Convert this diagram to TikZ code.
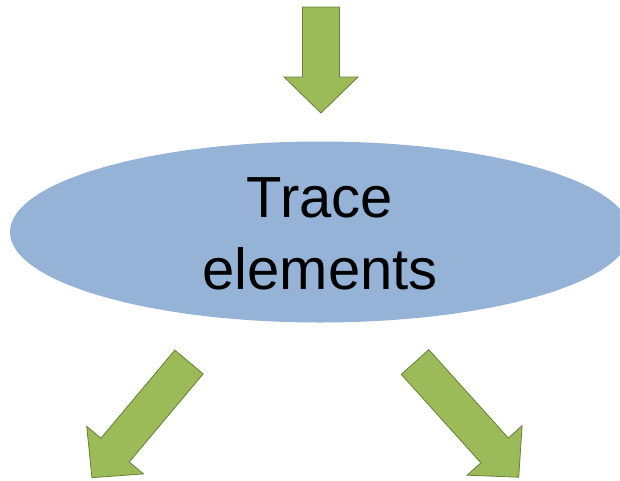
\documentclass[tikz,border=0pt]{standalone}
\usepackage{fontspec}
\setmainfont{Liberation Sans}
\usetikzlibrary{shapes.geometric}

\definecolor{arrowfill}{HTML}{9BBB59}
\definecolor{arrowline}{HTML}{66803A}
\definecolor{ovalfill}{HTML}{95B3D7}

\tikzset{
  % block arrow pointing along +x: total length, shaft half width, head half width, head length
  blockarrow/.pic={
    \draw[fill=arrowfill, draw=arrowline, line width=0.8pt, line join=miter]
      (0pt,\shafthw) -- (\arrowlen-\headlen,\shafthw) -- (\arrowlen-\headlen,\headhw)
      -- (\arrowlen,0pt) -- (\arrowlen-\headlen,-\headhw) -- (\arrowlen-\headlen,-\shafthw)
      -- (0pt,-\shafthw) -- cycle;
  },
  oval/.style={ellipse, fill=ovalfill, draw=none, inner sep=0pt,
    minimum width=620pt, minimum height=181pt},
  ovaltext/.style={align=center, font=\fontsize{58}{72}\selectfont, text=black}
}

\newcommand{\shafthw}{18.5pt}
\newcommand{\headhw}{37pt}
\newcommand{\headlen}{36pt}

\begin{document}
\begin{tikzpicture}[x=1pt, y=-1pt]
  \useasboundingbox (0,0) rectangle (620,480);
  \clip (0,0) rectangle (620,480);

  % central oval
  \node[oval] (trace) at (320,232) {};
  \node[ovaltext] (label) at (320,234) {Trace\\elements};

  % incoming arrow from above
  \def\arrowlen{106pt}
  \pic[rotate=-90] (inarrow) at (321,7) {blockarrow};

  % outgoing arrows below
  \def\arrowlen{151pt}
  \pic[rotate=-130] (outleft) at (189,362) {blockarrow};
  \def\arrowlen{155pt}
  \pic[rotate=-48] (outright) at (415,362) {blockarrow};
\end{tikzpicture}
\end{document}
